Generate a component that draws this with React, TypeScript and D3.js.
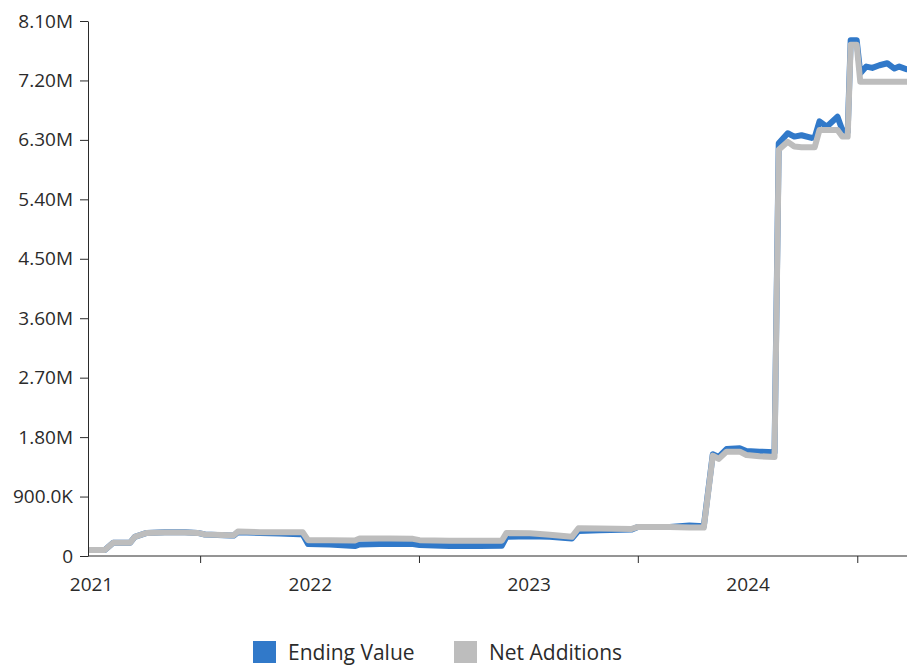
import React, { useRef, useEffect } from "react";
import * as d3 from "d3";

const WIDTH = 907;
const HEIGHT = 666;
const MARGIN = { top: 21, left: 88, bottom: 110 };

const BLUE = "#3179c9";
const GRAY = "#bdbdbd";
const TEXT = "#2b2b2b";
const FONT = "'Open Sans', 'Noto Sans', sans-serif";

// dates of the samples
const dates = [
  "2020-12-27", "2021-01-24", "2021-02-07", "2021-03-07", "2021-03-15",
  "2021-04-04", "2021-05-04", "2021-06-07", "2021-06-28", "2021-07-10",
  "2021-08-21", "2021-08-27", "2021-09-03", "2021-10-10", "2021-11-12",
  "2021-12-15", "2021-12-20", "2021-12-29", "2022-02-03", "2022-03-17",
  "2022-03-25", "2022-05-14", "2022-06-22", "2022-07-03", "2022-08-22",
  "2022-10-11", "2022-11-17", "2022-11-25", "2023-01-03", "2023-02-05",
  "2023-03-14", "2023-03-25", "2023-04-29", "2023-06-22", "2023-07-02",
  "2023-08-24", "2023-09-26", "2023-10-20", "2023-11-04", "2023-11-14",
  "2023-11-27", "2023-12-19", "2023-12-30", "2024-01-21", "2024-02-15",
  "2024-02-22", "2024-03-08", "2024-03-19", "2024-03-31", "2024-04-17",
  "2024-04-22", "2024-04-30", "2024-05-12", "2024-05-30", "2024-06-07",
  "2024-06-16", "2024-06-21", "2024-07-01", "2024-07-07", "2024-07-17",
  "2024-07-27", "2024-08-08", "2024-08-21", "2024-09-02", "2024-09-10",
  "2024-09-22", "2024-09-30",
];

const endingValue = [
  90000, 90000, 200000, 200000, 290000,
  350000, 360000, 360000, 350000, 325000,
  310000, 310000, 360000, 350000, 340000,
  330000, 330000, 180000, 175000, 150000,
  175000, 185000, 180000, 165000, 150000,
  150000, 155000, 290000, 300000, 290000,
  265000, 380000, 390000, 400000, 440000,
  440000, 460000, 450000, 1540000, 1500000,
  1620000, 1630000, 1590000, 1580000, 1570000,
  6250000, 6400000, 6350000, 6370000, 6330000,
  6340000, 6580000, 6500000, 6650000, 6450000,
  6420000, 7810000, 7810000, 7310000, 7410000,
  7390000, 7430000, 7460000, 7380000, 7410000,
  7370000, 7360000,
];

const netAdditions = [
  90000, 90000, 200000, 200000, 290000,
  350000, 355000, 355000, 350000, 325000,
  315000, 315000, 370000, 360000, 360000,
  360000, 360000, 240000, 240000, 235000,
  265000, 265000, 260000, 240000, 230000,
  230000, 230000, 350000, 345000, 320000,
  290000, 420000, 415000, 410000, 440000,
  440000, 430000, 430000, 1520000, 1470000,
  1580000, 1580000, 1530000, 1510000, 1500000,
  6150000, 6270000, 6200000, 6190000, 6190000,
  6190000, 6450000, 6450000, 6450000, 6350000,
  6350000, 7740000, 7740000, 7180000, 7180000,
  7180000, 7180000, 7180000, 7180000, 7180000,
  7180000, 7180000,
];

const yTicks = [0, 900000, 1800000, 2700000, 3600000, 4500000, 5400000, 6300000, 7200000, 8100000];
const yearLabels = ["2021", "2022", "2023", "2024"];
const midYearTicks = ["2021-07-02", "2022-07-02", "2023-07-02", "2024-07-02"];

const legendItems = [
  { label: "Ending Value", color: BLUE },
  { label: "Net Additions", color: GRAY },
];

const fmt = (v: number) =>
  v === 0 ? "0" : v < 1e6 ? (v / 1e3).toFixed(1) + "K" : (v / 1e6).toFixed(2) + "M";

export default function App() {
  const svgRef = useRef<SVGSVGElement | null>(null);

  useEffect(() => {
    if (!svgRef.current) return;
    const svg = d3.select(svgRef.current);
    svg.selectAll("*").remove();

    const parse = d3.utcParse("%Y-%m-%d");
    const xs = dates.map((d) => parse(d) as Date);
    const bottomY = HEIGHT - MARGIN.bottom;

    // 219px per year, labels sit on Jan 1
    const x = d3
      .scaleUtc()
      .domain([parse("2021-01-01") as Date, parse("2025-01-01") as Date])
      .range([91, 91 + 4 * 219]);
    const y = d3.scaleLinear().domain([0, 8100000]).range([bottomY, MARGIN.top]);

    svg
      .append("defs")
      .append("clipPath")
      .attr("id", "plot-clip")
      .append("rect")
      .attr("x", MARGIN.left)
      .attr("y", 0)
      .attr("width", WIDTH - MARGIN.left)
      .attr("height", bottomY);

    const plot = svg.append("g").attr("clip-path", "url(#plot-clip)");

    const series: [number[], string][] = [
      [endingValue, BLUE],
      [netAdditions, GRAY],
    ];
    series.forEach(([vals, color]) => {
      const line = d3
        .line<number>()
        .x((_, i) => x(xs[i]))
        .y((v) => y(v));
      plot
        .append("path")
        .datum(vals)
        .attr("fill", "none")
        .attr("stroke", color)
        .attr("stroke-width", 6)
        .attr("stroke-linejoin", "round")
        .attr("d", line);
    });

    // y axis
    svg
      .append("g")
      .attr("transform", `translate(${MARGIN.left},0)`)
      .call(
        d3
          .axisLeft(y)
          .tickValues(yTicks)
          .tickFormat((d) => fmt(d as number))
          .tickSize(8)
          .tickPadding(7)
          .tickSizeOuter(0)
      )
      .call((g) => g.selectAll("path,line").attr("stroke", TEXT))
      .call((g) =>
        g
          .selectAll("text")
          .attr("fill", TEXT)
          .attr("font-size", 19)
          .attr("font-family", FONT)
      );

    // x axis: line + mid-year tick marks
    svg
      .append("line")
      .attr("x1", MARGIN.left)
      .attr("x2", WIDTH)
      .attr("y1", bottomY)
      .attr("y2", bottomY)
      .attr("stroke", TEXT);

    const xAxisTicks = svg
      .append("g")
      .attr("transform", `translate(0,${bottomY})`)
      .call(
        d3
          .axisBottom(x)
          .tickValues(midYearTicks.map((d) => parse(d) as Date))
          .tickFormat(() => "")
          .tickSize(7)
      );
    xAxisTicks.select(".domain").remove();
    xAxisTicks.selectAll("line").attr("stroke", TEXT);

    // year labels at Jan 1
    const xAxisLabels = svg
      .append("g")
      .attr("transform", `translate(0,${bottomY})`)
      .call(
        d3
          .axisBottom(x)
          .tickValues(yearLabels.map((d) => parse(d + "-01-01") as Date))
          .tickFormat((d) => d3.utcFormat("%Y")(d as Date))
          .tickSize(0)
          .tickPadding(22)
      );
    xAxisLabels.select(".domain").remove();
    xAxisLabels
      .selectAll("text")
      .attr("fill", TEXT)
      .attr("font-size", 19)
      .attr("font-family", FONT);

    // legend
    const legend = svg.append("g").attr("transform", `translate(253, 641)`);
    const offsets = [0, 201];
    legendItems.forEach((item, i) => {
      const g = legend.append("g").attr("transform", `translate(${offsets[i]},0)`);
      g.append("rect")
        .attr("width", 23)
        .attr("height", 22)
        .attr("fill", item.color);
      g.append("text")
        .attr("x", 35)
        .attr("y", 19)
        .attr("font-size", 21)
        .attr("font-family", FONT)
        .attr("fill", TEXT)
        .text(item.label);
    });
  }, []);

  return (
    <svg
      ref={svgRef}
      width={WIDTH}
      height={HEIGHT}
      style={{ position: "absolute", left: 0, top: 0, background: "#fff" }}
    />
  );
}
